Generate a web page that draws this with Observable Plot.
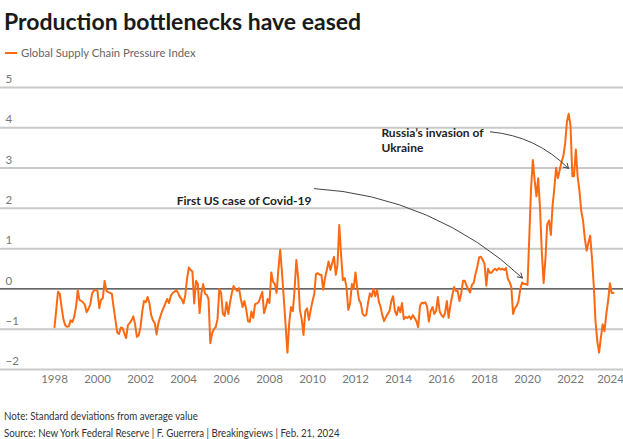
<!DOCTYPE html>
<html><head><meta charset="utf-8">
<script src="https://cdn.jsdelivr.net/npm/d3@7"></script>
<script src="https://cdn.jsdelivr.net/npm/@observablehq/plot@0.6"></script>
<style>
body{margin:0;background:#fff;font-family:Lato, sans-serif;}
#wrap{position:relative;width:623px;height:439px;overflow:hidden;background:#fff}
.title{position:absolute;left:4px;top:8px;font-size:23px;line-height:26px;font-weight:700;color:#1a1a1a;white-space:nowrap}
.legend{position:absolute;left:5px;top:46px;height:14px;font-size:12px;line-height:14px;color:#666;display:flex;align-items:center;white-space:nowrap;transform:scaleX(0.94);transform-origin:left center}
.legend .sw{display:inline-block;width:13px;height:2px;background:#fb6a12;margin-right:4px}
#chart{position:absolute;left:0;top:68px}
.note{position:absolute;left:4px;font-size:11px;line-height:14px;color:#333;white-space:nowrap;transform:scaleX(0.885);transform-origin:left center}
</style></head>
<body><div id="wrap">
<div class="title">Production bottlenecks have eased</div>
<div class="legend"><span class="sw"></span>Global Supply Chain Pressure Index</div>
<div id="chart"></div>
<div class="note" style="top:409px">Note: Standard deviations from average value</div>
<div class="note" style="top:426px">Source: New York Federal Reserve | F. Guerrera | Breakingviews | Feb. 21, 2024</div>
</div>
<script>
// Monthly Global Supply Chain Pressure Index, Jan 1998 - Jan 2024
const startYear = 1998;
const y1998_2002 = [
 -0.95, -0.5, -0.07, -0.12, -0.45, -0.75, -0.9, -0.94, -0.93, -0.78, -0.82, -0.7,
 -0.45, -0.03, -0.27, -0.3, -0.33, -0.4, -0.58, -0.5, -0.38, -0.12, -0.04, -0.02,
 -0.05, -0.48, -0.27, -0.23, 0.2, -0.05, -0.08, -0.1, -0.12, -0.45, -0.77, -1.08,
 -1.12, -0.96, -0.97, -1.1, -1.22, -0.9, -0.85, -0.78, -0.68, -0.88, -1.19, -1.15,
 -0.95, -0.55, -0.3, -0.33, -0.2, -0.35, -0.65, -0.78, -0.85, -1.13, -0.85, -0.7
];
const y2003_2007 = [
 -0.56, -0.45, -0.35, -0.25, -0.35, -0.17, -0.1, -0.07, -0.03, -0.1, -0.2, -0.25,
 -0.36, -0.15, 0.25, 0.53, 0.47, 0.43, -0.36, 0.2, 0.12, -0.6, -0.1, 0.12,
 -0.12, -0.15, -0.25, -1.35, -1.1, -1.0, -0.95, -0.75, 0.0, -0.1, -0.62, -0.67,
 -0.33, -0.62, -0.35, -0.1, 0.07, 0.0, -0.05, 0.02, -0.25, -0.45, -0.3, -0.5,
 -0.8, -0.82, -0.56, -0.72, -0.38, -0.36, -0.33, -0.2, -0.07, -0.6, -0.45, -0.25
];
const y2008_2012 = [
 -0.35, 0.41, 0.18, 0.12, -0.1, 0.5, 0.97, 0.4, -0.25, -0.9, -1.58, -0.85,
 -0.45, -0.55, -0.05, 0.72, 0.3, -0.52, -0.75, -1.14, -0.55, -0.48, -0.77, -0.52,
 -0.3, -0.12, 0.37, 0.39, 0.35, 0.35, -0.02, 0.27, 0.47, 0.68, 0.47, 0.64,
 0.8, 0.35, 0.6, 1.59, 0.85, 0.22, 0.27, 0.05, -0.52, -0.36, 0.12, 0.02,
 0.41, 0.0, -0.27, -0.36, -0.62, -0.67, -0.65, -0.35, -0.11, -0.19, 0.0, -0.18
];
const y2013_2017 = [
 -0.02, -0.32, -0.44, -0.65, -0.8, -0.7, -0.62, -0.55, -0.3, -0.18, -0.55, -0.65,
 -0.45, -0.58, -0.35, -0.75, -0.7, -0.72, -0.68, -0.75, -0.65, -0.72, -0.8, -0.95,
 -0.42, -0.34, -0.36, -0.33, -0.44, -0.81, -0.55, -0.45, -0.62, -0.55, -0.2, -0.56,
 -0.65, -0.7, -0.6, -0.3, -0.72, -0.4, -0.17, 0.05, -0.05, -0.05, -0.3, -0.12,
 0.2, 0.2, 0.08, -0.02, -0.09, 0.1, 0.15, 0.37, 0.55, 0.78, 0.8, 0.72
];
const y2018_2024 = [
 0.62, 0.08, 0.5, 0.4, 0.4, 0.47, 0.5, 0.46, 0.52, 0.48, 0.5, 0.47,
 0.52, 0.25, 0.18, 0.05, -0.62, -0.48, -0.42, -0.3, 0.0, 0.16, 0.12, 0.12,
 0.1, 1.3, 2.5, 3.2, 2.7, 2.3, 2.75, 2.0, 0.9, 0.15, 0.75, 1.6,
 1.7, 1.34, 2.05, 2.5, 3.0, 2.75, 2.95, 3.15, 3.3, 3.6, 4.15, 4.35,
 4.05, 2.8, 2.8, 3.46, 2.8, 2.45, 1.95, 1.7, 1.25, 0.95, 1.15, 1.32,
 0.75, 0.06, -0.8, -1.3, -1.58, -1.2, -0.88, -1.05, -0.62, -0.3, 0.14, -0.1,
 -0.1
];
const yTicks = [-2, -1, 0, 1, 2, 3, 4, 5];
const gridTicks = [-2, -1, 1, 2, 3, 4, 5];
const xTickYears = [1998, 2000, 2002, 2004, 2006, 2008, 2010, 2012, 2014, 2016, 2018, 2020, 2022, 2024];

// Annotations (date, value)
const covidLabel = {date: "2009-12-13", value: 2.19, text: "First US case of Covid-19"};
const covidArrow = {from: ["2010-02-03", 2.49], to: ["2019-10-07", 0.27]};
const russiaLabel = {date: "2013-03-16", value: 3.71, text: "Russia\u2019s invasion of\nUkraine"};
const russiaArrow = {from: ["2018-04-10", 3.9], to: ["2021-11-28", 2.99]};

const values = [...y1998_2002, ...y2003_2007, ...y2008_2012, ...y2013_2017, ...y2018_2024];
const series = values.map((v, i) => ({date: new Date(Date.UTC(startYear, i, 1)), value: v}));
const D = s => new Date(s + "T00:00:00Z");
const arrows = [covidArrow, russiaArrow].map(a => ({
  x1: D(a.from[0]), y1: a.from[1], x2: D(a.to[0]), y2: a.to[1]
}));
const xTicks = xTickYears.map(y => ({date: new Date(Date.UTC(y, 0, 1)), label: String(y), last: y === 2024}));

const chart = Plot.plot({
  width: 623, height: 327,
  marginLeft: 54, marginRight: 10, marginTop: 19, marginBottom: 26,
  x: {type: "utc", domain: [new Date(Date.UTC(1998, 0, 1)), new Date(Date.UTC(2024, 0, 1))], axis: null},
  y: {domain: [-2, 5], axis: null},
  style: {fontFamily: "Lato, sans-serif", background: "#fff", overflow: "visible"},
  marks: [
    Plot.ruleY(gridTicks, {stroke: "#c9c9c9", strokeWidth: 2, insetLeft: -54, insetRight: -10}),
    Plot.text(yTicks, {y: d => d, text: d => d < 0 ? "\u2212" + Math.abs(d) : String(d), frameAnchor: "left", dx: -49, dy: -8, textAnchor: "start", fill: "#777", fontSize: 11.5}),
    Plot.text(xTicks.filter(d => !d.last), {x: "date", text: "label", frameAnchor: "bottom", dy: 13, fill: "#777", fontSize: 11.5}),
    Plot.text(xTicks.filter(d => d.last), {x: "date", text: "label", frameAnchor: "bottom", dy: 13, dx: -3, fill: "#777", fontSize: 11.5}),
    Plot.ruleY([0], {stroke: "#333", strokeWidth: 1.2, insetLeft: -54, insetRight: -10}),
    Plot.line(series, {x: "date", y: "value", stroke: "#fb6a12", strokeWidth: 2, strokeLinejoin: "round"}),
    Plot.arrow(arrows, {x1: "x1", y1: "y1", x2: "x2", y2: "y2", bend: 20, stroke: "#444", strokeWidth: 1, headLength: 8}),
    Plot.text([covidLabel], {x: d => D(d.date), y: "value", text: "text", textAnchor: "end", fontWeight: "bold", fontSize: 12, fill: "#222"}),
    Plot.text([russiaLabel], {x: d => D(d.date), y: "value", text: "text", textAnchor: "start", fontWeight: "bold", fontSize: 12, fill: "#222", lineHeight: 1.25})
  ]
});
document.getElementById("chart").appendChild(chart);
</script>
</body></html>
